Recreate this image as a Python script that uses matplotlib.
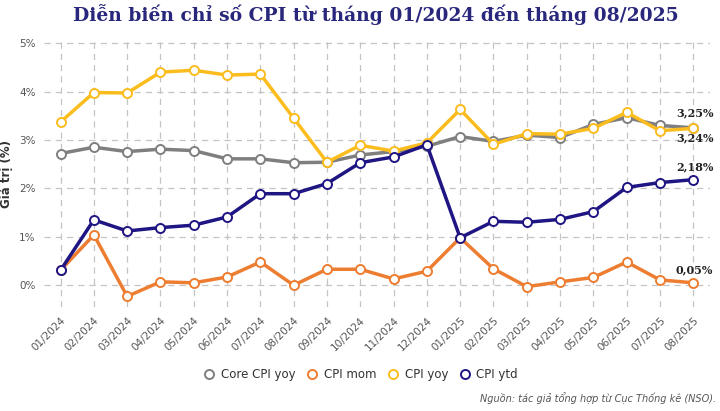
import numpy as np
import matplotlib.pyplot as plt

# Months (01/2024 -> 08/2025)
months = ['01/2024', '02/2024', '03/2024', '04/2024', '05/2024', '06/2024', '07/2024',
          '08/2024', '09/2024', '10/2024', '11/2024', '12/2024', '01/2025', '02/2025',
          '03/2025', '04/2025', '05/2025', '06/2025', '07/2025', '08/2025']

core_yoy = [2.72, 2.85, 2.76, 2.81, 2.78, 2.61, 2.61, 2.53, 2.54, 2.69, 2.76, 2.87,
            3.07, 2.97, 3.10, 3.05, 3.32, 3.46, 3.30, 3.25]
cpi_mom = [0.31, 1.04, -0.23, 0.07, 0.05, 0.17, 0.48, 0.00, 0.33, 0.33, 0.13, 0.29,
           0.98, 0.34, -0.03, 0.07, 0.16, 0.48, 0.11, 0.05]
cpi_yoy = [3.37, 3.98, 3.97, 4.40, 4.44, 4.34, 4.36, 3.45, 2.54, 2.89, 2.77, 2.94,
           3.63, 2.91, 3.13, 3.12, 3.24, 3.57, 3.19, 3.24]
cpi_ytd = [0.31, 1.35, 1.12, 1.19, 1.24, 1.41, 1.89, 1.89, 2.10, 2.53, 2.65, 2.90,
           0.98, 1.32, 1.30, 1.36, 1.52, 2.02, 2.12, 2.18]

series = [('Core CPI yoy', core_yoy, '#7f7f7f'),
          ('CPI mom', cpi_mom, '#ed7d31'),
          ('CPI yoy', cpi_yoy, '#fbbc1e'),
          ('CPI ytd', cpi_ytd, '#1f1583')]

x = np.arange(len(months))

fig = plt.figure(figsize=(7.2, 4.11), dpi=100)
ax = fig.add_axes([0.061, 0.253, 0.925, 0.648])

for name, vals, col in series:
    ax.plot(x, vals, color=col, lw=2.5, marker='o', ms=6.5, mfc='white',
            mec=col, mew=1.4, label=name, zorder=3)

ax.set_xlim(-0.5, len(months) - 0.5)
ax.set_ylim(-0.45, 5.05)
ax.set_yticks([0, 1, 2, 3, 4, 5])
ax.set_yticklabels(['0%', '1%', '2%', '3%', '4%', '5%'])
ax.set_xticks(x)
ax.set_xticklabels(months, rotation=45, ha='right', rotation_mode='anchor')
ax.tick_params(length=0, labelsize=7.5, colors='#555555', pad=6)
ax.grid(True, ls=(0, (5, 4)), color='#c4c4c4', lw=0.9)
for s in ax.spines.values():
    s.set_visible(False)
ax.set_ylabel('Giá trị (%)', fontsize=8.5, fontweight='bold', color='#333333')
ax.yaxis.set_label_coords(-0.047, 0.5)

# end labels
serif = 'DejaVu Serif'
lab = dict(textcoords='offset points', ha='center', va='center', fontsize=8,
           fontweight='bold', family=serif, color='#222222')
ax.annotate('3,25%', (x[-1], core_yoy[-1]), xytext=(1, 11), **lab)
ax.annotate('3,24%', (x[-1], cpi_yoy[-1]), xytext=(1, -7), **lab)
ax.annotate('2,18%', (x[-1], cpi_ytd[-1]), xytext=(1, 9.5), **lab)
ax.annotate('0,05%', (x[-1], cpi_mom[-1]), xytext=(1, 9.5), **lab)

fig.text(0.522, 0.965, 'Diễn biến chỉ số CPI từ tháng 01/2024 đến tháng 08/2025',
         ha='center', va='center', fontsize=13.5, fontweight='bold', family=serif,
         color='#29277c')

leg = fig.legend(loc='center', bbox_to_anchor=(0.5, 0.088), ncol=4, frameon=False,
                 fontsize=8.5, handlelength=1.2, handletextpad=0.4, columnspacing=0.8)
for h in leg.legend_handles:
    h.set_linestyle('none')
for t in leg.get_texts():
    t.set_color('#333333')

fig.text(0.995, 0.032, 'Nguồn: tác giả tổng hợp từ Cục Thống kê (NSO).', ha='right',
         va='center', fontsize=7, style='italic', color='#555555')

fig.savefig('out.png', dpi=100)
